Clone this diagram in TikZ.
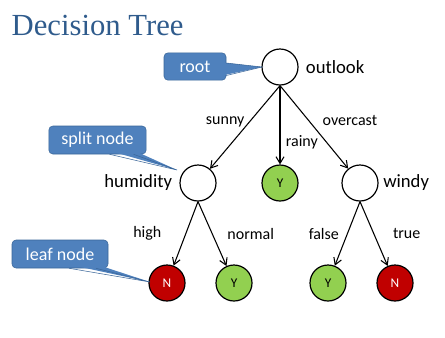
\documentclass[tikz,border=0pt]{standalone}
\usepackage{fontspec}
\setmainfont{Carlito}
\newfontfamily\titlefont{Liberation Serif}
\usetikzlibrary{arrows.meta, positioning, calc}
\definecolor{titleblue}{HTML}{2F5B8C}
\definecolor{noteblue}{HTML}{4F81BD}
\definecolor{noteedge}{HTML}{3A6699}
\definecolor{yesgreen}{HTML}{92D050}
\definecolor{nored}{HTML}{C00000}
\tikzset{
    split/.style={circle, draw, line width=0.9pt, fill=white, minimum size=27pt, inner sep=0pt},
    leafyes/.style={split, fill=yesgreen, font=\fontsize{10}{10}\selectfont},
    leafno/.style={split, fill=nored, text=white, font=\fontsize{10}{10}\selectfont},
    attr/.style={font=\fontsize{14}{14}\selectfont},
    branch/.style={font=\fontsize{12}{12}\selectfont, inner sep=1pt},
    arrow/.style={-{Straight Barb[length=5pt, width=6pt]}, line width=0.8pt},
    note/.style={rectangle, draw=noteedge, fill=noteblue, rounded corners=3pt, text=white, font=\fontsize{13.5}{13.5}\selectfont, inner sep=0pt},
}

\begin{document}
\begin{tikzpicture}[x=0.75pt, y=-0.75pt]
    \useasboundingbox (0,0) rectangle (445,337);
    \node[anchor=base west, text=titleblue, font=\titlefont\fontsize{23}{23}\selectfont] (title) at (7,35) {Decision Tree};
    % tree nodes
    \node[split] (outlook) at (280,67) {};
    \node[split] (humidity) at (198,183) {};
    \node[leafyes] (rainyleaf) at (280,183) {Y};
    \node[split] (windy) at (360,183) {};
    \node[leafno] (highleaf) at (167,283) {N};
    \node[leafyes] (normalleaf) at (234,283) {Y};
    \node[leafyes] (falseleaf) at (328,283) {Y};
    \node[leafno] (trueleaf) at (395,283) {N};
    \node[attr, right=2pt of outlook] (outlooktxt) {outlook};
    \node[attr, left=2pt of humidity] (humiditytxt) {humidity};
    \node[attr, right=0pt of windy] (windytxt) {windy};
    % branches
    \draw[arrow] (outlook.south) -- node[branch, pos=0.52, anchor=south east, xshift=2pt] {sunny} (humidity);
    \draw[arrow] (outlook.south) -- node[branch, pos=0.72, right=3pt] {rainy} (rainyleaf);
    \draw[arrow] (outlook.south) -- node[branch, pos=0.5, anchor=south west, xshift=5pt] {overcast} (windy);
    \draw[arrow] (humidity.south) -- node[branch, pos=0.5, left=17pt] {high} (highleaf);
    \draw[arrow] (humidity.south) -- node[branch, pos=0.5, right=10pt] {normal} (normalleaf);
    \draw[arrow] (windy.south) -- node[branch, pos=0.5, left=5pt] {false} (falseleaf);
    \draw[arrow] (windy.south) -- node[branch, pos=0.5, right=13pt] {true} (trueleaf);
    % callouts
    \node[note, minimum width=46.5pt, minimum height=20.5pt] (rootnote) at (195,66.5) {root};
    \node[note, minimum width=73pt, minimum height=21pt] (splitnote) at (97.5,140) {split node};
    \node[note, minimum width=72pt, minimum height=21pt] (leafnote) at (60,254) {leaf node};
    \coordinate (roottip) at (262,67);
    \coordinate (splittip) at (177,170);
    \coordinate (leaftip) at (150,282);
    \fill[noteblue] ($(rootnote.east)+(-4,-4)$) -- (roottip) -- ($(rootnote.east)+(-4,9)$) -- cycle;
    \draw[noteedge] ($(rootnote.east)+(0,-3.5)$) -- (roottip) -- ($(rootnote.east)+(0,9)$);
    \fill[noteblue] ($(splitnote.south)+(10,-4)$) -- (splittip) -- ($(splitnote.south)+(36,-4)$) -- cycle;
    \draw[noteedge] ($(splitnote.south)+(12,0)$) -- (splittip) -- ($(splitnote.south)+(36,0)$);
    \fill[noteblue] ($(leafnote.south)+(8,-4)$) -- (leaftip) -- ($(leafnote.south)+(36,-4)$) -- cycle;
    \draw[noteedge] ($(leafnote.south)+(9,0)$) -- (leaftip) -- ($(leafnote.south)+(36,0)$);
\end{tikzpicture}
\end{document}
